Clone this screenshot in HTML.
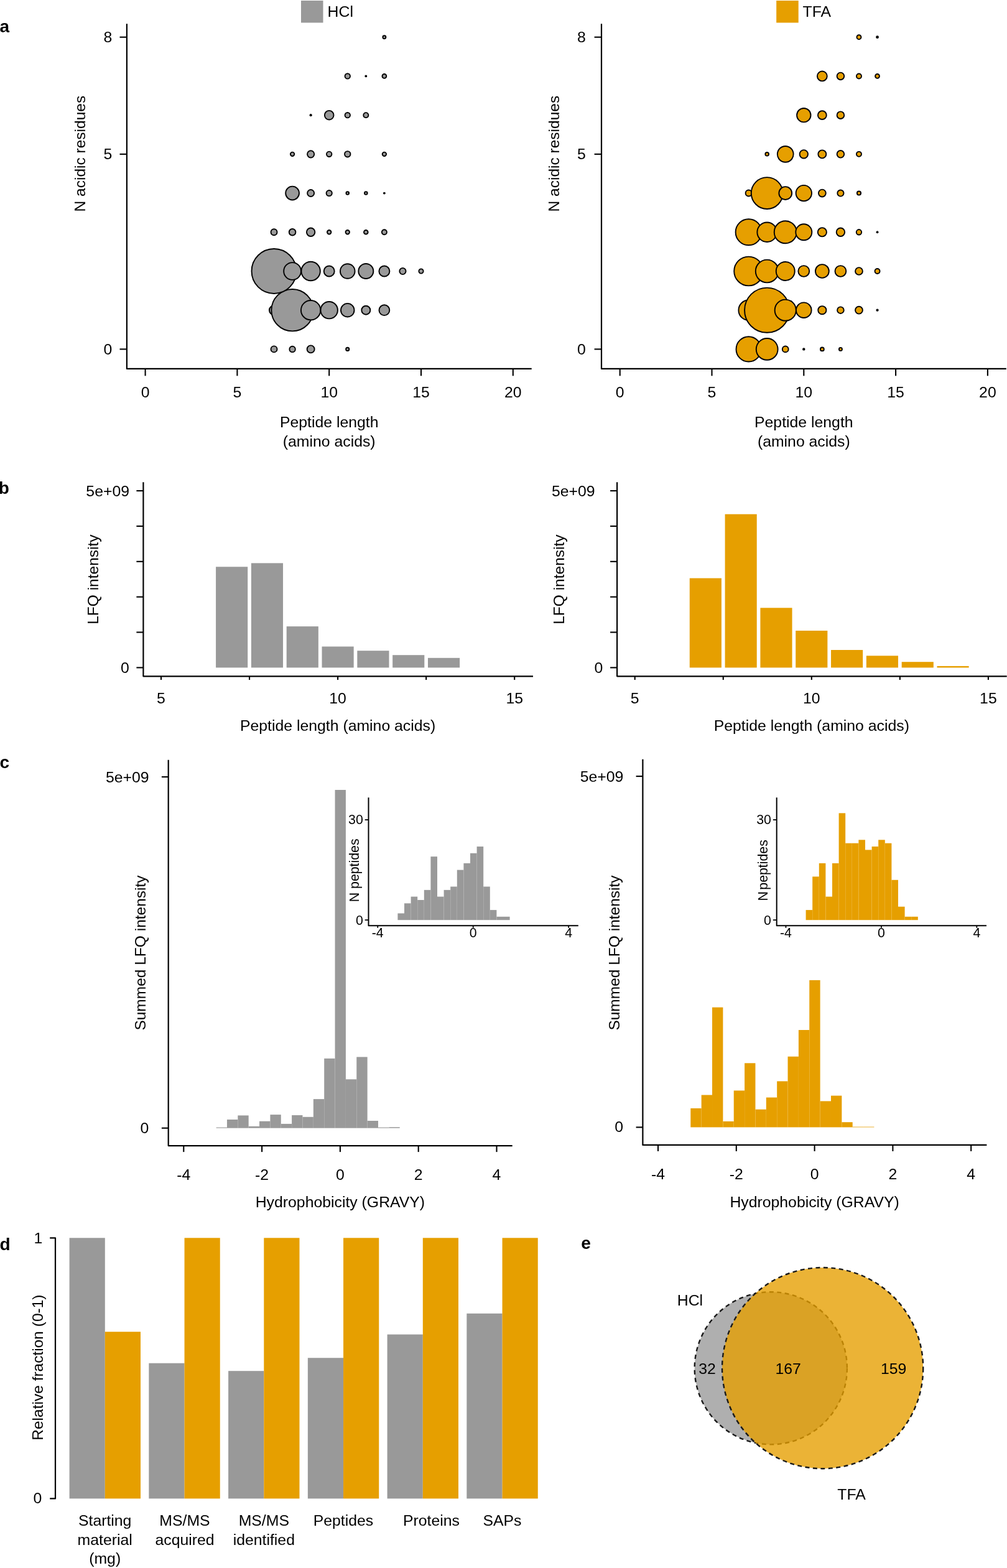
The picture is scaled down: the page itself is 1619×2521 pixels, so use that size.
<!DOCTYPE html>
<html><head><meta charset="utf-8"><title>Figure</title>
<style>
html,body{margin:0;padding:0;background:#fff;}
body{width:1619px;height:2521px;overflow:hidden;}
svg{display:block;}
text{font-family:"Liberation Sans", Arial, Helvetica, sans-serif;fill:#000;}
</style></head>
<body>
<svg width="1619" height="2521" viewBox="0 0 1619 2521">
<rect width="1619" height="2521" fill="#fff"/>
<text x="-0.40" y="52.00" text-anchor="start" style="font-size:28.0px;font-weight:bold">a</text>
<text x="-2.20" y="793.60" text-anchor="start" style="font-size:28.0px;font-weight:bold">b</text>
<text x="-0.50" y="1234.60" text-anchor="start" style="font-size:28.0px;font-weight:bold">c</text>
<text x="-0.60" y="2010.10" text-anchor="start" style="font-size:28.0px;font-weight:bold">d</text>
<text x="934.20" y="2008.20" text-anchor="start" style="font-size:28.0px;font-weight:bold">e</text>
<circle cx="440.52" cy="561.40" r="5.00" fill="#999999" stroke="#000" stroke-width="1.9"/>
<circle cx="470.08" cy="561.40" r="4.70" fill="#999999" stroke="#000" stroke-width="1.9"/>
<circle cx="499.64" cy="561.40" r="6.00" fill="#999999" stroke="#000" stroke-width="1.9"/>
<circle cx="558.76" cy="561.40" r="2.60" fill="#999999" stroke="#000" stroke-width="1.9"/>
<circle cx="440.52" cy="498.69" r="7.60" fill="#999999" stroke="#000" stroke-width="1.9"/>
<circle cx="470.08" cy="498.69" r="33.70" fill="#999999" stroke="#000" stroke-width="1.9"/>
<circle cx="499.64" cy="498.69" r="15.70" fill="#999999" stroke="#000" stroke-width="1.9"/>
<circle cx="529.20" cy="498.69" r="13.70" fill="#999999" stroke="#000" stroke-width="1.9"/>
<circle cx="558.76" cy="498.69" r="10.80" fill="#999999" stroke="#000" stroke-width="1.9"/>
<circle cx="588.32" cy="498.69" r="7.00" fill="#999999" stroke="#000" stroke-width="1.9"/>
<circle cx="617.88" cy="498.69" r="8.40" fill="#999999" stroke="#000" stroke-width="1.9"/>
<circle cx="440.52" cy="435.98" r="36.00" fill="#999999" stroke="#000" stroke-width="1.9"/>
<circle cx="470.08" cy="435.98" r="13.90" fill="#999999" stroke="#000" stroke-width="1.9"/>
<circle cx="499.64" cy="435.98" r="15.20" fill="#999999" stroke="#000" stroke-width="1.9"/>
<circle cx="529.20" cy="435.98" r="8.50" fill="#999999" stroke="#000" stroke-width="1.9"/>
<circle cx="558.76" cy="435.98" r="11.80" fill="#999999" stroke="#000" stroke-width="1.9"/>
<circle cx="588.32" cy="435.98" r="12.00" fill="#999999" stroke="#000" stroke-width="1.9"/>
<circle cx="617.88" cy="435.98" r="8.50" fill="#999999" stroke="#000" stroke-width="1.9"/>
<circle cx="647.44" cy="435.98" r="5.10" fill="#999999" stroke="#000" stroke-width="1.9"/>
<circle cx="677.00" cy="435.98" r="3.60" fill="#999999" stroke="#000" stroke-width="1.9"/>
<circle cx="440.52" cy="373.27" r="5.00" fill="#999999" stroke="#000" stroke-width="1.9"/>
<circle cx="470.08" cy="373.27" r="5.30" fill="#999999" stroke="#000" stroke-width="1.9"/>
<circle cx="499.64" cy="373.27" r="6.70" fill="#999999" stroke="#000" stroke-width="1.9"/>
<circle cx="529.20" cy="373.27" r="3.20" fill="#999999" stroke="#000" stroke-width="1.9"/>
<circle cx="558.76" cy="373.27" r="3.20" fill="#999999" stroke="#000" stroke-width="1.9"/>
<circle cx="588.32" cy="373.27" r="3.30" fill="#999999" stroke="#000" stroke-width="1.9"/>
<circle cx="617.88" cy="373.27" r="4.00" fill="#999999" stroke="#000" stroke-width="1.9"/>
<circle cx="470.08" cy="310.56" r="10.90" fill="#999999" stroke="#000" stroke-width="1.9"/>
<circle cx="499.64" cy="310.56" r="5.50" fill="#999999" stroke="#000" stroke-width="1.9"/>
<circle cx="529.20" cy="310.56" r="4.60" fill="#999999" stroke="#000" stroke-width="1.9"/>
<circle cx="558.76" cy="310.56" r="2.30" fill="#999999" stroke="#000" stroke-width="1.9"/>
<circle cx="588.32" cy="310.56" r="2.30" fill="#999999" stroke="#000" stroke-width="1.9"/>
<circle cx="617.88" cy="310.56" r="1.90" fill="#000"/>
<circle cx="470.08" cy="247.85" r="3.20" fill="#999999" stroke="#000" stroke-width="1.9"/>
<circle cx="499.64" cy="247.85" r="5.60" fill="#999999" stroke="#000" stroke-width="1.9"/>
<circle cx="529.20" cy="247.85" r="4.20" fill="#999999" stroke="#000" stroke-width="1.9"/>
<circle cx="558.76" cy="247.85" r="4.70" fill="#999999" stroke="#000" stroke-width="1.9"/>
<circle cx="617.88" cy="247.85" r="3.20" fill="#999999" stroke="#000" stroke-width="1.9"/>
<circle cx="499.64" cy="185.14" r="2.10" fill="#000"/>
<circle cx="529.20" cy="185.14" r="7.30" fill="#999999" stroke="#000" stroke-width="1.9"/>
<circle cx="558.76" cy="185.14" r="4.20" fill="#999999" stroke="#000" stroke-width="1.9"/>
<circle cx="588.32" cy="185.14" r="4.00" fill="#999999" stroke="#000" stroke-width="1.9"/>
<circle cx="558.76" cy="122.43" r="4.20" fill="#999999" stroke="#000" stroke-width="1.9"/>
<circle cx="588.32" cy="122.43" r="1.90" fill="#000"/>
<circle cx="617.88" cy="122.43" r="3.40" fill="#999999" stroke="#000" stroke-width="1.9"/>
<circle cx="617.88" cy="59.72" r="2.50" fill="#999999" stroke="#000" stroke-width="1.9"/>
<polyline points="203.90,38.20 203.90,592.90 854.70,592.90" fill="none" stroke="#000" stroke-width="2.2" stroke-linejoin="round"/>
<line x1="192.50" y1="561.40" x2="203.90" y2="561.40" stroke="#000" stroke-width="2.1"/>
<text x="180.22" y="569.80" text-anchor="end" style="font-size:24.8px">0</text>
<line x1="192.50" y1="247.85" x2="203.90" y2="247.85" stroke="#000" stroke-width="2.1"/>
<text x="180.22" y="256.25" text-anchor="end" style="font-size:24.8px">5</text>
<line x1="192.50" y1="59.72" x2="203.90" y2="59.72" stroke="#000" stroke-width="2.1"/>
<text x="180.22" y="68.12" text-anchor="end" style="font-size:24.8px">8</text>
<line x1="233.60" y1="592.90" x2="233.60" y2="604.30" stroke="#000" stroke-width="2.1"/>
<text x="233.60" y="639.30" text-anchor="middle" style="font-size:24.8px">0</text>
<line x1="381.40" y1="592.90" x2="381.40" y2="604.30" stroke="#000" stroke-width="2.1"/>
<text x="381.40" y="639.30" text-anchor="middle" style="font-size:24.8px">5</text>
<line x1="529.20" y1="592.90" x2="529.20" y2="604.30" stroke="#000" stroke-width="2.1"/>
<text x="529.20" y="639.30" text-anchor="middle" style="font-size:24.8px">10</text>
<line x1="677.00" y1="592.90" x2="677.00" y2="604.30" stroke="#000" stroke-width="2.1"/>
<text x="677.00" y="639.30" text-anchor="middle" style="font-size:24.8px">15</text>
<line x1="824.80" y1="592.90" x2="824.80" y2="604.30" stroke="#000" stroke-width="2.1"/>
<text x="824.80" y="639.30" text-anchor="middle" style="font-size:24.8px">20</text>
<text x="529.20" y="687.20" text-anchor="middle" style="font-size:24.8px">Peptide length</text>
<text x="529.20" y="717.60" text-anchor="middle" style="font-size:24.8px">(amino acids)</text>
<text x="137.20" y="247.10" text-anchor="middle" style="font-size:24.5px" transform="rotate(-90 137.20 247.10)">N acidic residues</text>
<rect x="484.00" y="1.00" width="35.50" height="35.50" fill="#999999"/>
<text x="526.60" y="27.20" text-anchor="start" style="font-size:24.8px">HCl</text>
<circle cx="1203.62" cy="561.40" r="20.10" fill="#E69F00" stroke="#000" stroke-width="1.9"/>
<circle cx="1233.18" cy="561.40" r="17.40" fill="#E69F00" stroke="#000" stroke-width="1.9"/>
<circle cx="1262.74" cy="561.40" r="4.90" fill="#E69F00" stroke="#000" stroke-width="1.9"/>
<circle cx="1292.30" cy="561.40" r="2.20" fill="#000"/>
<circle cx="1321.86" cy="561.40" r="2.90" fill="#E69F00" stroke="#000" stroke-width="1.9"/>
<circle cx="1351.42" cy="561.40" r="2.50" fill="#E69F00" stroke="#000" stroke-width="1.9"/>
<circle cx="1203.62" cy="498.69" r="16.20" fill="#E69F00" stroke="#000" stroke-width="1.9"/>
<circle cx="1233.18" cy="498.69" r="36.10" fill="#E69F00" stroke="#000" stroke-width="1.9"/>
<circle cx="1262.74" cy="498.69" r="17.10" fill="#E69F00" stroke="#000" stroke-width="1.9"/>
<circle cx="1292.30" cy="498.69" r="12.30" fill="#E69F00" stroke="#000" stroke-width="1.9"/>
<circle cx="1321.86" cy="498.69" r="6.60" fill="#E69F00" stroke="#000" stroke-width="1.9"/>
<circle cx="1351.42" cy="498.69" r="5.30" fill="#E69F00" stroke="#000" stroke-width="1.9"/>
<circle cx="1380.98" cy="498.69" r="5.90" fill="#E69F00" stroke="#000" stroke-width="1.9"/>
<circle cx="1410.54" cy="498.69" r="2.10" fill="#000"/>
<circle cx="1203.62" cy="435.98" r="23.40" fill="#E69F00" stroke="#000" stroke-width="1.9"/>
<circle cx="1233.18" cy="435.98" r="18.40" fill="#E69F00" stroke="#000" stroke-width="1.9"/>
<circle cx="1262.74" cy="435.98" r="15.00" fill="#E69F00" stroke="#000" stroke-width="1.9"/>
<circle cx="1292.30" cy="435.98" r="8.90" fill="#E69F00" stroke="#000" stroke-width="1.9"/>
<circle cx="1321.86" cy="435.98" r="10.90" fill="#E69F00" stroke="#000" stroke-width="1.9"/>
<circle cx="1351.42" cy="435.98" r="8.90" fill="#E69F00" stroke="#000" stroke-width="1.9"/>
<circle cx="1380.98" cy="435.98" r="5.90" fill="#E69F00" stroke="#000" stroke-width="1.9"/>
<circle cx="1410.54" cy="435.98" r="4.00" fill="#E69F00" stroke="#000" stroke-width="1.9"/>
<circle cx="1203.62" cy="373.27" r="21.00" fill="#E69F00" stroke="#000" stroke-width="1.9"/>
<circle cx="1233.18" cy="373.27" r="15.80" fill="#E69F00" stroke="#000" stroke-width="1.9"/>
<circle cx="1262.74" cy="373.27" r="18.00" fill="#E69F00" stroke="#000" stroke-width="1.9"/>
<circle cx="1292.30" cy="373.27" r="13.00" fill="#E69F00" stroke="#000" stroke-width="1.9"/>
<circle cx="1321.86" cy="373.27" r="7.10" fill="#E69F00" stroke="#000" stroke-width="1.9"/>
<circle cx="1351.42" cy="373.27" r="6.70" fill="#E69F00" stroke="#000" stroke-width="1.9"/>
<circle cx="1380.98" cy="373.27" r="4.20" fill="#E69F00" stroke="#000" stroke-width="1.9"/>
<circle cx="1410.54" cy="373.27" r="1.90" fill="#000"/>
<circle cx="1203.62" cy="310.56" r="5.00" fill="#E69F00" stroke="#000" stroke-width="1.9"/>
<circle cx="1233.18" cy="310.56" r="25.40" fill="#E69F00" stroke="#000" stroke-width="1.9"/>
<circle cx="1262.74" cy="310.56" r="10.40" fill="#E69F00" stroke="#000" stroke-width="1.9"/>
<circle cx="1292.30" cy="310.56" r="12.70" fill="#E69F00" stroke="#000" stroke-width="1.9"/>
<circle cx="1321.86" cy="310.56" r="5.90" fill="#E69F00" stroke="#000" stroke-width="1.9"/>
<circle cx="1351.42" cy="310.56" r="5.10" fill="#E69F00" stroke="#000" stroke-width="1.9"/>
<circle cx="1380.98" cy="310.56" r="3.10" fill="#E69F00" stroke="#000" stroke-width="1.9"/>
<circle cx="1233.18" cy="247.85" r="2.80" fill="#E69F00" stroke="#000" stroke-width="1.9"/>
<circle cx="1262.74" cy="247.85" r="12.90" fill="#E69F00" stroke="#000" stroke-width="1.9"/>
<circle cx="1292.30" cy="247.85" r="6.70" fill="#E69F00" stroke="#000" stroke-width="1.9"/>
<circle cx="1321.86" cy="247.85" r="6.50" fill="#E69F00" stroke="#000" stroke-width="1.9"/>
<circle cx="1351.42" cy="247.85" r="5.80" fill="#E69F00" stroke="#000" stroke-width="1.9"/>
<circle cx="1380.98" cy="247.85" r="4.00" fill="#E69F00" stroke="#000" stroke-width="1.9"/>
<circle cx="1292.30" cy="185.14" r="11.20" fill="#E69F00" stroke="#000" stroke-width="1.9"/>
<circle cx="1321.86" cy="185.14" r="6.90" fill="#E69F00" stroke="#000" stroke-width="1.9"/>
<circle cx="1351.42" cy="185.14" r="5.80" fill="#E69F00" stroke="#000" stroke-width="1.9"/>
<circle cx="1321.86" cy="122.43" r="7.90" fill="#E69F00" stroke="#000" stroke-width="1.9"/>
<circle cx="1351.42" cy="122.43" r="5.80" fill="#E69F00" stroke="#000" stroke-width="1.9"/>
<circle cx="1380.98" cy="122.43" r="4.00" fill="#E69F00" stroke="#000" stroke-width="1.9"/>
<circle cx="1410.54" cy="122.43" r="3.40" fill="#E69F00" stroke="#000" stroke-width="1.9"/>
<circle cx="1380.98" cy="59.72" r="3.50" fill="#E69F00" stroke="#000" stroke-width="1.9"/>
<circle cx="1410.54" cy="59.72" r="2.40" fill="#000"/>
<polyline points="967.00,38.20 967.00,592.90 1617.80,592.90" fill="none" stroke="#000" stroke-width="2.2" stroke-linejoin="round"/>
<line x1="955.60" y1="561.40" x2="967.00" y2="561.40" stroke="#000" stroke-width="2.1"/>
<text x="941.92" y="569.80" text-anchor="end" style="font-size:24.8px">0</text>
<line x1="955.60" y1="247.85" x2="967.00" y2="247.85" stroke="#000" stroke-width="2.1"/>
<text x="941.92" y="256.25" text-anchor="end" style="font-size:24.8px">5</text>
<line x1="955.60" y1="59.72" x2="967.00" y2="59.72" stroke="#000" stroke-width="2.1"/>
<text x="941.92" y="68.12" text-anchor="end" style="font-size:24.8px">8</text>
<line x1="996.70" y1="592.90" x2="996.70" y2="604.30" stroke="#000" stroke-width="2.1"/>
<text x="996.70" y="639.30" text-anchor="middle" style="font-size:24.8px">0</text>
<line x1="1144.50" y1="592.90" x2="1144.50" y2="604.30" stroke="#000" stroke-width="2.1"/>
<text x="1144.50" y="639.30" text-anchor="middle" style="font-size:24.8px">5</text>
<line x1="1292.30" y1="592.90" x2="1292.30" y2="604.30" stroke="#000" stroke-width="2.1"/>
<text x="1292.30" y="639.30" text-anchor="middle" style="font-size:24.8px">10</text>
<line x1="1440.10" y1="592.90" x2="1440.10" y2="604.30" stroke="#000" stroke-width="2.1"/>
<text x="1440.10" y="639.30" text-anchor="middle" style="font-size:24.8px">15</text>
<line x1="1587.90" y1="592.90" x2="1587.90" y2="604.30" stroke="#000" stroke-width="2.1"/>
<text x="1587.90" y="639.30" text-anchor="middle" style="font-size:24.8px">20</text>
<text x="1292.30" y="687.20" text-anchor="middle" style="font-size:24.8px">Peptide length</text>
<text x="1292.30" y="717.60" text-anchor="middle" style="font-size:24.8px">(amino acids)</text>
<text x="898.80" y="247.10" text-anchor="middle" style="font-size:24.5px" transform="rotate(-90 898.80 247.10)">N acidic residues</text>
<rect x="1248.20" y="1.00" width="35.50" height="35.50" fill="#E69F00"/>
<text x="1290.60" y="27.20" text-anchor="start" style="font-size:24.8px">TFA</text>
<rect x="347.07" y="911.30" width="51.14" height="162.10" fill="#999999"/>
<rect x="403.89" y="905.40" width="51.14" height="168.00" fill="#999999"/>
<rect x="460.71" y="1007.10" width="51.14" height="66.30" fill="#999999"/>
<rect x="517.53" y="1039.50" width="51.14" height="33.90" fill="#999999"/>
<rect x="574.35" y="1046.20" width="51.14" height="27.20" fill="#999999"/>
<rect x="631.17" y="1053.20" width="51.14" height="20.20" fill="#999999"/>
<rect x="687.99" y="1057.80" width="51.14" height="15.60" fill="#999999"/>
<polyline points="230.40,775.20 230.40,1087.30 857.00,1087.30" fill="none" stroke="#000" stroke-width="2.2" stroke-linejoin="round"/>
<line x1="219.40" y1="1073.40" x2="230.40" y2="1073.40" stroke="#000" stroke-width="2.1"/>
<line x1="219.40" y1="1016.54" x2="230.40" y2="1016.54" stroke="#000" stroke-width="2.1"/>
<line x1="219.40" y1="959.68" x2="230.40" y2="959.68" stroke="#000" stroke-width="2.1"/>
<line x1="219.40" y1="902.82" x2="230.40" y2="902.82" stroke="#000" stroke-width="2.1"/>
<line x1="219.40" y1="845.96" x2="230.40" y2="845.96" stroke="#000" stroke-width="2.1"/>
<line x1="219.40" y1="789.10" x2="230.40" y2="789.10" stroke="#000" stroke-width="2.1"/>
<text x="208.02" y="797.50" text-anchor="end" style="font-size:24.8px">5e+09</text>
<text x="207.72" y="1081.80" text-anchor="end" style="font-size:24.8px">0</text>
<line x1="259.00" y1="1087.30" x2="259.00" y2="1093.10" stroke="#000" stroke-width="2.1"/>
<line x1="401.05" y1="1087.30" x2="401.05" y2="1093.10" stroke="#000" stroke-width="2.1"/>
<line x1="543.10" y1="1087.30" x2="543.10" y2="1093.10" stroke="#000" stroke-width="2.1"/>
<line x1="685.15" y1="1087.30" x2="685.15" y2="1093.10" stroke="#000" stroke-width="2.1"/>
<line x1="827.20" y1="1087.30" x2="827.20" y2="1093.10" stroke="#000" stroke-width="2.1"/>
<text x="259.00" y="1130.60" text-anchor="middle" style="font-size:24.8px">5</text>
<text x="543.10" y="1130.60" text-anchor="middle" style="font-size:24.8px">10</text>
<text x="827.20" y="1130.60" text-anchor="middle" style="font-size:24.8px">15</text>
<text x="543.10" y="1174.50" text-anchor="middle" style="font-size:24.8px">Peptide length (amino acids)</text>
<text x="157.90" y="931.60" text-anchor="middle" style="font-size:24.5px" transform="rotate(-90 157.90 931.60)">LFQ intensity</text>
<rect x="1108.77" y="929.60" width="51.14" height="143.80" fill="#E69F00"/>
<rect x="1165.59" y="826.70" width="51.14" height="246.70" fill="#E69F00"/>
<rect x="1222.41" y="977.30" width="51.14" height="96.10" fill="#E69F00"/>
<rect x="1279.23" y="1014.00" width="51.14" height="59.40" fill="#E69F00"/>
<rect x="1336.05" y="1045.00" width="51.14" height="28.40" fill="#E69F00"/>
<rect x="1392.87" y="1054.30" width="51.14" height="19.10" fill="#E69F00"/>
<rect x="1449.69" y="1064.20" width="51.14" height="9.20" fill="#E69F00"/>
<rect x="1506.51" y="1070.90" width="51.14" height="2.50" fill="#E69F00"/>
<polyline points="992.10,775.20 992.10,1087.30 1618.70,1087.30" fill="none" stroke="#000" stroke-width="2.2" stroke-linejoin="round"/>
<line x1="981.10" y1="1073.40" x2="992.10" y2="1073.40" stroke="#000" stroke-width="2.1"/>
<line x1="981.10" y1="1016.54" x2="992.10" y2="1016.54" stroke="#000" stroke-width="2.1"/>
<line x1="981.10" y1="959.68" x2="992.10" y2="959.68" stroke="#000" stroke-width="2.1"/>
<line x1="981.10" y1="902.82" x2="992.10" y2="902.82" stroke="#000" stroke-width="2.1"/>
<line x1="981.10" y1="845.96" x2="992.10" y2="845.96" stroke="#000" stroke-width="2.1"/>
<line x1="981.10" y1="789.10" x2="992.10" y2="789.10" stroke="#000" stroke-width="2.1"/>
<text x="956.62" y="797.50" text-anchor="end" style="font-size:24.8px">5e+09</text>
<text x="969.32" y="1081.80" text-anchor="end" style="font-size:24.8px">0</text>
<line x1="1020.70" y1="1087.30" x2="1020.70" y2="1093.10" stroke="#000" stroke-width="2.1"/>
<line x1="1162.75" y1="1087.30" x2="1162.75" y2="1093.10" stroke="#000" stroke-width="2.1"/>
<line x1="1304.80" y1="1087.30" x2="1304.80" y2="1093.10" stroke="#000" stroke-width="2.1"/>
<line x1="1446.85" y1="1087.30" x2="1446.85" y2="1093.10" stroke="#000" stroke-width="2.1"/>
<line x1="1588.90" y1="1087.30" x2="1588.90" y2="1093.10" stroke="#000" stroke-width="2.1"/>
<text x="1020.70" y="1130.60" text-anchor="middle" style="font-size:24.8px">5</text>
<text x="1304.80" y="1130.60" text-anchor="middle" style="font-size:24.8px">10</text>
<text x="1588.90" y="1130.60" text-anchor="middle" style="font-size:24.8px">15</text>
<text x="1304.80" y="1174.50" text-anchor="middle" style="font-size:24.8px">Peptide length (amino acids)</text>
<text x="906.60" y="931.60" text-anchor="middle" style="font-size:24.5px" transform="rotate(-90 906.60 931.60)">LFQ intensity</text>
<rect x="347.60" y="1812.60" width="17.36" height="1.10" fill="#999999"/>
<rect x="364.96" y="1800.00" width="17.36" height="13.70" fill="#999999"/>
<rect x="382.32" y="1793.40" width="17.36" height="20.30" fill="#999999"/>
<rect x="399.68" y="1810.90" width="17.36" height="2.80" fill="#999999"/>
<rect x="417.04" y="1802.70" width="17.36" height="11.00" fill="#999999"/>
<rect x="434.40" y="1792.10" width="17.36" height="21.60" fill="#999999"/>
<rect x="451.76" y="1806.90" width="17.36" height="6.80" fill="#999999"/>
<rect x="469.12" y="1793.00" width="17.36" height="20.70" fill="#999999"/>
<rect x="486.48" y="1795.80" width="17.36" height="17.90" fill="#999999"/>
<rect x="503.84" y="1767.10" width="17.36" height="46.60" fill="#999999"/>
<rect x="521.20" y="1701.80" width="17.36" height="111.90" fill="#999999"/>
<rect x="538.56" y="1270.00" width="17.36" height="543.70" fill="#999999"/>
<rect x="555.92" y="1735.30" width="17.36" height="78.40" fill="#999999"/>
<rect x="573.28" y="1699.40" width="17.36" height="114.30" fill="#999999"/>
<rect x="590.64" y="1802.00" width="17.36" height="11.70" fill="#999999"/>
<rect x="608.00" y="1812.60" width="17.36" height="1.10" fill="#999999"/>
<rect x="625.36" y="1812.20" width="17.36" height="1.50" fill="#999999"/>
<polyline points="270.70,1221.80 270.70,1842.10 823.70,1842.10" fill="none" stroke="#000" stroke-width="2.2" stroke-linejoin="round"/>
<line x1="259.90" y1="1249.10" x2="270.70" y2="1249.10" stroke="#000" stroke-width="2.1"/>
<line x1="259.90" y1="1813.70" x2="270.70" y2="1813.70" stroke="#000" stroke-width="2.1"/>
<text x="239.62" y="1257.50" text-anchor="end" style="font-size:24.8px">5e+09</text>
<text x="239.32" y="1821.70" text-anchor="end" style="font-size:24.8px">0</text>
<line x1="295.30" y1="1842.10" x2="295.30" y2="1852.10" stroke="#000" stroke-width="2.1"/>
<text x="295.30" y="1896.50" text-anchor="middle" style="font-size:24.8px">-4</text>
<line x1="421.10" y1="1842.10" x2="421.10" y2="1852.10" stroke="#000" stroke-width="2.1"/>
<text x="421.10" y="1896.50" text-anchor="middle" style="font-size:24.8px">-2</text>
<line x1="546.90" y1="1842.10" x2="546.90" y2="1852.10" stroke="#000" stroke-width="2.1"/>
<text x="546.90" y="1896.50" text-anchor="middle" style="font-size:24.8px">0</text>
<line x1="672.70" y1="1842.10" x2="672.70" y2="1852.10" stroke="#000" stroke-width="2.1"/>
<text x="672.70" y="1896.50" text-anchor="middle" style="font-size:24.8px">2</text>
<line x1="798.50" y1="1842.10" x2="798.50" y2="1852.10" stroke="#000" stroke-width="2.1"/>
<text x="798.50" y="1896.50" text-anchor="middle" style="font-size:24.8px">4</text>
<text x="546.90" y="1940.80" text-anchor="middle" style="font-size:24.8px">Hydrophobicity (GRAVY)</text>
<text x="233.50" y="1532.00" text-anchor="middle" style="font-size:24.5px" transform="rotate(-90 233.50 1532.00)">Summed LFQ intensity</text>
<rect x="639.40" y="1468.46" width="10.60" height="10.74" fill="#999999"/>
<rect x="650.00" y="1452.35" width="10.60" height="26.85" fill="#999999"/>
<rect x="660.60" y="1441.61" width="10.60" height="37.59" fill="#999999"/>
<rect x="671.20" y="1446.98" width="10.60" height="32.22" fill="#999999"/>
<rect x="681.80" y="1430.87" width="10.60" height="48.33" fill="#999999"/>
<rect x="692.40" y="1377.17" width="10.60" height="102.03" fill="#999999"/>
<rect x="703.00" y="1441.61" width="10.60" height="37.59" fill="#999999"/>
<rect x="713.60" y="1430.87" width="10.60" height="48.33" fill="#999999"/>
<rect x="724.20" y="1425.50" width="10.60" height="53.70" fill="#999999"/>
<rect x="734.80" y="1398.65" width="10.60" height="80.55" fill="#999999"/>
<rect x="745.40" y="1387.91" width="10.60" height="91.29" fill="#999999"/>
<rect x="756.00" y="1371.80" width="10.60" height="107.40" fill="#999999"/>
<rect x="766.60" y="1361.06" width="10.60" height="118.14" fill="#999999"/>
<rect x="777.20" y="1425.50" width="10.60" height="53.70" fill="#999999"/>
<rect x="787.80" y="1463.09" width="10.60" height="16.11" fill="#999999"/>
<rect x="798.40" y="1473.83" width="10.60" height="5.37" fill="#999999"/>
<rect x="809.00" y="1473.83" width="10.60" height="5.37" fill="#999999"/>
<polyline points="592.50,1282.20 592.50,1488.30 929.80,1488.30" fill="none" stroke="#000" stroke-width="2.0" stroke-linejoin="round"/>
<line x1="586.70" y1="1479.20" x2="592.50" y2="1479.20" stroke="#000" stroke-width="1.8"/>
<text x="583.77" y="1486.50" text-anchor="end" style="font-size:21.3px">0</text>
<line x1="586.70" y1="1318.10" x2="592.50" y2="1318.10" stroke="#000" stroke-width="1.8"/>
<text x="583.77" y="1325.40" text-anchor="end" style="font-size:21.3px">30</text>
<line x1="607.26" y1="1488.30" x2="607.26" y2="1491.80" stroke="#000" stroke-width="1.8"/>
<text x="607.26" y="1506.80" text-anchor="middle" style="font-size:21.3px">-4</text>
<line x1="760.70" y1="1488.30" x2="760.70" y2="1491.80" stroke="#000" stroke-width="1.8"/>
<text x="760.70" y="1506.80" text-anchor="middle" style="font-size:21.3px">0</text>
<line x1="914.14" y1="1488.30" x2="914.14" y2="1491.80" stroke="#000" stroke-width="1.8"/>
<text x="914.14" y="1506.80" text-anchor="middle" style="font-size:21.3px">4</text>
<text x="576.60" y="1399.30" text-anchor="middle" style="font-size:21.3px" transform="rotate(-90 576.60 1399.30)">N peptides</text>
<rect x="1110.30" y="1781.90" width="17.36" height="30.50" fill="#E69F00"/>
<rect x="1127.66" y="1760.50" width="17.36" height="51.90" fill="#E69F00"/>
<rect x="1145.02" y="1619.60" width="17.36" height="192.80" fill="#E69F00"/>
<rect x="1162.38" y="1802.90" width="17.36" height="9.50" fill="#E69F00"/>
<rect x="1179.74" y="1753.40" width="17.36" height="59.00" fill="#E69F00"/>
<rect x="1197.10" y="1709.30" width="17.36" height="103.10" fill="#E69F00"/>
<rect x="1214.46" y="1783.70" width="17.36" height="28.70" fill="#E69F00"/>
<rect x="1231.82" y="1764.50" width="17.36" height="47.90" fill="#E69F00"/>
<rect x="1249.18" y="1738.40" width="17.36" height="74.00" fill="#E69F00"/>
<rect x="1266.54" y="1698.70" width="17.36" height="113.70" fill="#E69F00"/>
<rect x="1283.90" y="1656.00" width="17.36" height="156.40" fill="#E69F00"/>
<rect x="1301.26" y="1575.90" width="17.36" height="236.50" fill="#E69F00"/>
<rect x="1318.62" y="1770.40" width="17.36" height="42.00" fill="#E69F00"/>
<rect x="1335.98" y="1761.60" width="17.36" height="50.80" fill="#E69F00"/>
<rect x="1353.34" y="1804.20" width="17.36" height="8.20" fill="#E69F00"/>
<rect x="1370.70" y="1811.60" width="17.36" height="0.80" fill="#E69F00"/>
<rect x="1388.06" y="1811.60" width="17.36" height="0.80" fill="#E69F00"/>
<polyline points="1033.40,1220.80 1033.40,1840.90 1586.40,1840.90" fill="none" stroke="#000" stroke-width="2.2" stroke-linejoin="round"/>
<line x1="1022.60" y1="1248.10" x2="1033.40" y2="1248.10" stroke="#000" stroke-width="2.1"/>
<line x1="1022.60" y1="1812.40" x2="1033.40" y2="1812.40" stroke="#000" stroke-width="2.1"/>
<text x="1002.32" y="1256.50" text-anchor="end" style="font-size:24.8px">5e+09</text>
<text x="1002.02" y="1820.40" text-anchor="end" style="font-size:24.8px">0</text>
<line x1="1058.00" y1="1840.90" x2="1058.00" y2="1850.90" stroke="#000" stroke-width="2.1"/>
<text x="1058.00" y="1895.60" text-anchor="middle" style="font-size:24.8px">-4</text>
<line x1="1183.80" y1="1840.90" x2="1183.80" y2="1850.90" stroke="#000" stroke-width="2.1"/>
<text x="1183.80" y="1895.60" text-anchor="middle" style="font-size:24.8px">-2</text>
<line x1="1309.60" y1="1840.90" x2="1309.60" y2="1850.90" stroke="#000" stroke-width="2.1"/>
<text x="1309.60" y="1895.60" text-anchor="middle" style="font-size:24.8px">0</text>
<line x1="1435.40" y1="1840.90" x2="1435.40" y2="1850.90" stroke="#000" stroke-width="2.1"/>
<text x="1435.40" y="1895.60" text-anchor="middle" style="font-size:24.8px">2</text>
<line x1="1561.20" y1="1840.90" x2="1561.20" y2="1850.90" stroke="#000" stroke-width="2.1"/>
<text x="1561.20" y="1895.60" text-anchor="middle" style="font-size:24.8px">4</text>
<text x="1309.60" y="1940.80" text-anchor="middle" style="font-size:24.8px">Hydrophobicity (GRAVY)</text>
<text x="996.30" y="1532.00" text-anchor="middle" style="font-size:24.5px" transform="rotate(-90 996.30 1532.00)">Summed LFQ intensity</text>
<rect x="1295.60" y="1463.09" width="10.60" height="16.11" fill="#E69F00"/>
<rect x="1306.20" y="1409.39" width="10.60" height="69.81" fill="#E69F00"/>
<rect x="1316.80" y="1387.91" width="10.60" height="91.29" fill="#E69F00"/>
<rect x="1327.40" y="1441.61" width="10.60" height="37.59" fill="#E69F00"/>
<rect x="1338.00" y="1387.91" width="10.60" height="91.29" fill="#E69F00"/>
<rect x="1348.60" y="1307.36" width="10.60" height="171.84" fill="#E69F00"/>
<rect x="1359.20" y="1355.69" width="10.60" height="123.51" fill="#E69F00"/>
<rect x="1369.80" y="1355.69" width="10.60" height="123.51" fill="#E69F00"/>
<rect x="1380.40" y="1350.32" width="10.60" height="128.88" fill="#E69F00"/>
<rect x="1391.00" y="1366.43" width="10.60" height="112.77" fill="#E69F00"/>
<rect x="1401.60" y="1361.06" width="10.60" height="118.14" fill="#E69F00"/>
<rect x="1412.20" y="1350.32" width="10.60" height="128.88" fill="#E69F00"/>
<rect x="1422.80" y="1355.69" width="10.60" height="123.51" fill="#E69F00"/>
<rect x="1433.40" y="1414.76" width="10.60" height="64.44" fill="#E69F00"/>
<rect x="1444.00" y="1457.72" width="10.60" height="21.48" fill="#E69F00"/>
<rect x="1454.60" y="1473.83" width="10.60" height="5.37" fill="#E69F00"/>
<rect x="1465.20" y="1473.83" width="10.60" height="5.37" fill="#E69F00"/>
<polyline points="1248.70,1282.20 1248.70,1488.30 1586.00,1488.30" fill="none" stroke="#000" stroke-width="2.0" stroke-linejoin="round"/>
<line x1="1242.90" y1="1479.20" x2="1248.70" y2="1479.20" stroke="#000" stroke-width="1.8"/>
<text x="1239.97" y="1486.50" text-anchor="end" style="font-size:21.3px">0</text>
<line x1="1242.90" y1="1318.10" x2="1248.70" y2="1318.10" stroke="#000" stroke-width="1.8"/>
<text x="1239.97" y="1325.40" text-anchor="end" style="font-size:21.3px">30</text>
<line x1="1263.46" y1="1488.30" x2="1263.46" y2="1491.80" stroke="#000" stroke-width="1.8"/>
<text x="1263.46" y="1506.80" text-anchor="middle" style="font-size:21.3px">-4</text>
<line x1="1416.90" y1="1488.30" x2="1416.90" y2="1491.80" stroke="#000" stroke-width="1.8"/>
<text x="1416.90" y="1506.80" text-anchor="middle" style="font-size:21.3px">0</text>
<line x1="1570.34" y1="1488.30" x2="1570.34" y2="1491.80" stroke="#000" stroke-width="1.8"/>
<text x="1570.34" y="1506.80" text-anchor="middle" style="font-size:21.3px">4</text>
<text x="1233.60" y="1399.30" text-anchor="middle" style="font-size:21.3px;word-spacing:-3.6px" transform="rotate(-90 1233.60 1399.30)">N peptides</text>
<rect x="111.60" y="1990.30" width="57.20" height="419.10" fill="#999999"/>
<rect x="168.80" y="2141.20" width="57.20" height="268.20" fill="#E69F00"/>
<rect x="239.35" y="2191.70" width="57.20" height="217.70" fill="#999999"/>
<rect x="296.55" y="1990.30" width="57.20" height="419.10" fill="#E69F00"/>
<rect x="367.10" y="2204.20" width="57.20" height="205.20" fill="#999999"/>
<rect x="424.30" y="1990.30" width="57.20" height="419.10" fill="#E69F00"/>
<rect x="494.85" y="2183.20" width="57.20" height="226.20" fill="#999999"/>
<rect x="552.05" y="1990.30" width="57.20" height="419.10" fill="#E69F00"/>
<rect x="622.60" y="2145.50" width="57.20" height="263.90" fill="#999999"/>
<rect x="679.80" y="1990.30" width="57.20" height="419.10" fill="#E69F00"/>
<rect x="750.35" y="2111.80" width="57.20" height="297.60" fill="#999999"/>
<rect x="807.55" y="1990.30" width="57.20" height="419.10" fill="#E69F00"/>
<polyline points="80.20,1990.30 89.00,1990.30 89.00,2409.40 80.20,2409.40" fill="none" stroke="#000" stroke-width="2.2" stroke-linejoin="round"/>
<text x="68.42" y="1999.10" text-anchor="end" style="font-size:24.8px">1</text>
<text x="67.32" y="2417.40" text-anchor="end" style="font-size:24.8px">0</text>
<text x="69.00" y="2198.60" text-anchor="middle" style="font-size:24.5px" transform="rotate(-90 69.00 2198.60)">Relative fraction (0-1)</text>
<text x="168.70" y="2453.40" text-anchor="middle" style="font-size:24.8px">Starting</text>
<text x="168.70" y="2483.50" text-anchor="middle" style="font-size:24.8px">material</text>
<text x="168.70" y="2513.60" text-anchor="middle" style="font-size:24.8px">(mg)</text>
<text x="297.00" y="2453.40" text-anchor="middle" style="font-size:24.8px">MS/MS</text>
<text x="297.00" y="2483.50" text-anchor="middle" style="font-size:24.8px">acquired</text>
<text x="424.30" y="2453.40" text-anchor="middle" style="font-size:24.8px">MS/MS</text>
<text x="424.30" y="2483.50" text-anchor="middle" style="font-size:24.8px">identified</text>
<text x="551.90" y="2453.40" text-anchor="middle" style="font-size:24.8px">Peptides</text>
<text x="693.40" y="2453.40" text-anchor="middle" style="font-size:24.8px">Proteins</text>
<text x="807.50" y="2453.40" text-anchor="middle" style="font-size:24.8px">SAPs</text>
<circle cx="1239.3" cy="2199.8" r="122.6" fill="#999999" fill-opacity="0.78" stroke="#1a1a1a" stroke-width="2.4" stroke-dasharray="7 5.5"/>
<circle cx="1322.6" cy="2199.6" r="161.6" fill="#E69F00" fill-opacity="0.79" stroke="#1a1a1a" stroke-width="2.4" stroke-dasharray="7 5.5"/>
<text x="1109.40" y="2098.70" text-anchor="middle" style="font-size:24.8px">HCl</text>
<text x="1137.10" y="2208.60" text-anchor="middle" style="font-size:24.8px">32</text>
<text x="1267.20" y="2208.60" text-anchor="middle" style="font-size:24.8px">167</text>
<text x="1436.70" y="2208.60" text-anchor="middle" style="font-size:24.8px">159</text>
<text x="1369.10" y="2410.90" text-anchor="middle" style="font-size:24.8px">TFA</text>
</svg>
</body></html>
